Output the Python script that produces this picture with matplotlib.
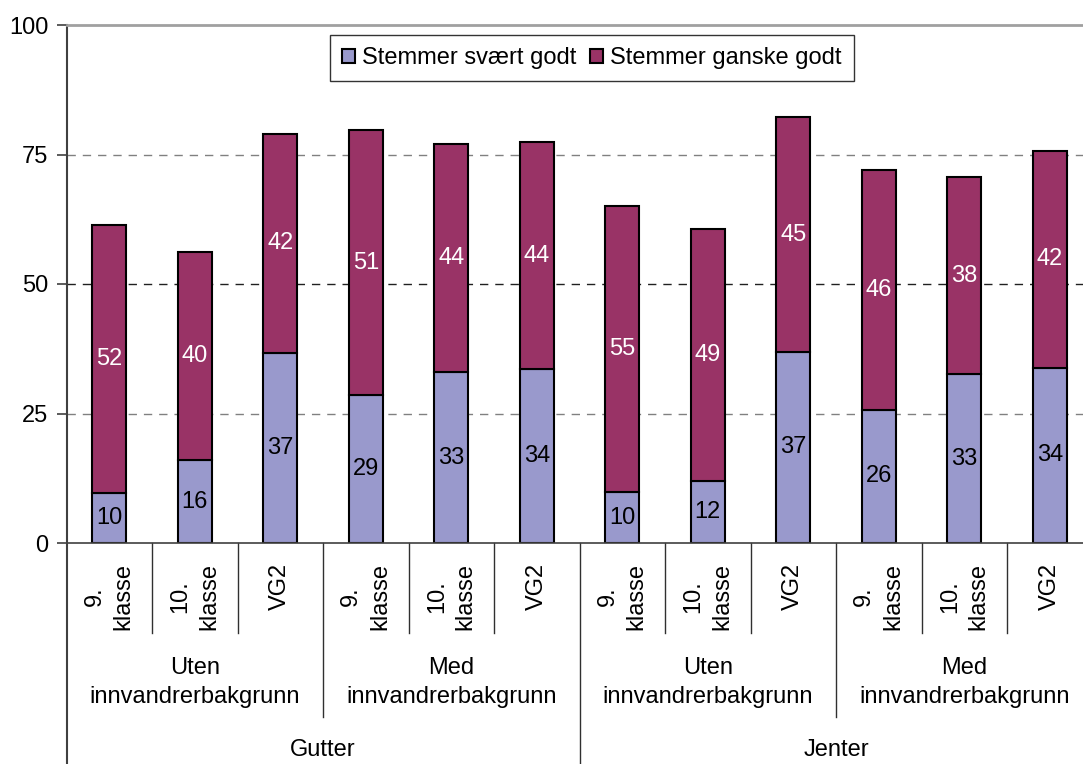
import matplotlib
matplotlib.use("Agg")
import matplotlib.pyplot as plt
import numpy as np

plt.rcParams['font.family'] = ['Liberation Sans', 'DejaVu Sans']

# data
klasse = ["9.\nklasse", "10.\nklasse", "VG2"] * 4
bakgrunn = ["Uten\ninnvandrerbakgrunn", "Med\ninnvandrerbakgrunn",
            "Uten\ninnvandrerbakgrunn", "Med\ninnvandrerbakgrunn"]
kjonn = ["Gutter", "Jenter"]
svaert_godt = [9.6, 16.0, 36.7, 28.6, 33.0, 33.6, 9.8, 12.0, 36.9, 25.7, 32.6, 33.8]
ganske_godt = [51.8, 40.2, 42.3, 51.1, 44.0, 43.8, 55.3, 48.6, 45.3, 46.3, 38.0, 41.9]
serier = ["Stemmer svært godt", "Stemmer ganske godt"]

lys = "#9999CC"
mork = "#993366"
fs = 17

fig = plt.figure(figsize=(10.83, 7.64), dpi=100)
ax = fig.add_axes([66.5/1083, 221/764, 1026/1083, 518/764])

x = np.arange(len(svaert_godt))
ax.bar(x, svaert_godt, width=0.4, color=lys, edgecolor="black", linewidth=1.5, label=serier[0])
ax.bar(x, ganske_godt, width=0.4, bottom=svaert_godt, color=mork, edgecolor="black",
       linewidth=1.5, label=serier[1])

for i in range(len(x)):
    ax.text(x[i], svaert_godt[i] / 2, f"{svaert_godt[i]:.0f}", ha="center", va="center",
            fontsize=fs, color="black")
    ax.text(x[i], svaert_godt[i] + ganske_godt[i] / 2, f"{ganske_godt[i]:.0f}", ha="center",
            va="center", fontsize=fs, color="white")

ax.set_xlim(-0.5, 11.5)
ax.set_ylim(0, 100)
ax.set_yticks([0, 25, 50, 75, 100])
ax.tick_params(axis="y", length=7, width=1.2, color="#404040", labelsize=fs, pad=6)
ax.set_xticks([])

# gridlines
for yv, c in [(25, "#808080"), (50, "#202020"), (75, "#808080")]:
    ax.axhline(yv, color=c, linestyle=(0, (6, 5)), linewidth=1, zorder=0)

ax.spines["right"].set_visible(False)
ax.spines["top"].set_color("#a0a0a0")
ax.spines["top"].set_linewidth(2)
ax.spines["bottom"].set_color("#404040")
ax.spines["bottom"].set_linewidth(1.2)
ax.spines["left"].set_visible(False)

# multi-level x axis
tr = ax.get_xaxis_transform()
ax.plot([-0.5, -0.5], [1, -0.43], color="#404040", linewidth=1.5, transform=tr, clip_on=False)
for i in range(11):
    pos = i + 0.5
    if i == 5:
        y0 = -0.43
    elif i in (2, 8):
        y0 = -0.336
    else:
        y0 = -0.174
    ax.plot([pos, pos], [0, y0], color="#303030", linewidth=1, transform=tr, clip_on=False)

for i, lab in enumerate(klasse):
    ax.text(i, -0.038, lab, rotation=90, ha="center", va="top", multialignment="center",
            fontsize=fs, transform=tr, linespacing=1.4)
for j, lab in enumerate(bakgrunn):
    ax.text(3 * j + 1, -0.27, lab, ha="center", va="center", fontsize=fs, transform=tr,
            linespacing=1.4)
for k, lab in enumerate(kjonn):
    ax.text(6 * k + 2.5, -0.40, lab, ha="center", va="center", fontsize=fs, transform=tr)

leg = ax.legend(loc="center", bbox_to_anchor=(0.512, 0.936), ncol=2, fontsize=fs,
                frameon=True, fancybox=False, edgecolor="black", handlelength=0.55,
                handleheight=0.55, handletextpad=0.3, columnspacing=0.6, borderpad=0.5,
                borderaxespad=0)
leg.get_frame().set_linewidth(1)

fig.savefig("out.png", dpi=100)
